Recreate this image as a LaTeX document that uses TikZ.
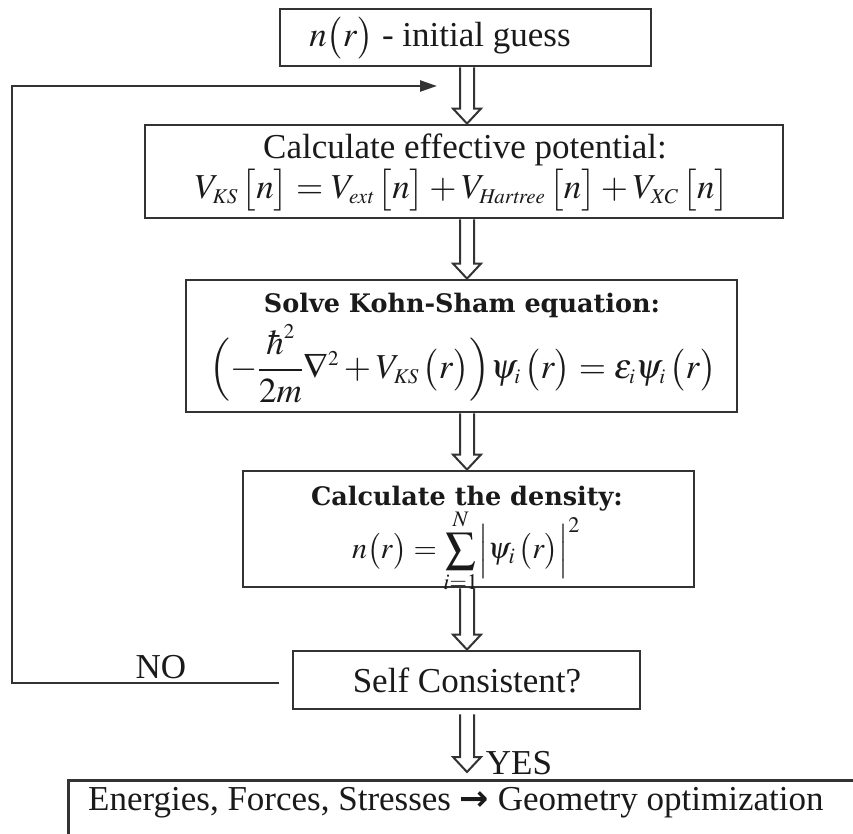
\documentclass[tikz,border=0pt]{standalone}
\usepackage{amsmath}
\usepackage{mathptmx}
\usepackage{fontspec}
\setmainfont{Liberation Serif}
\newfontfamily\centfont{DejaVu Serif}
\newfontfamily\symfont{DejaVu Sans}
\usetikzlibrary{calc,arrows.meta}
\DeclareMathSizes{35}{35}{21}{16}
\definecolor{linec}{HTML}{333333}
\definecolor{textc}{HTML}{1A1A1A}
\newcommand\hollowarrow[2]{%
  \draw[harrow] let \p1=#1, \p2=#2 in
    (\x1-7pt,\y1) -- (\x1-7pt,\y2+15pt) -- (\x1-14pt,\y2+15pt) -- (\x1,\y2)
    -- (\x1+14pt,\y2+15pt) -- (\x1+7pt,\y2+15pt) -- (\x1+7pt,\y1);}
\begin{document}
\begin{tikzpicture}[x=1pt,y=-1pt,
  box/.style={draw=linec, line width=2.8pt, inner sep=0pt},
  txt/.style={text=textc, font=\fontsize{35}{42}\selectfont, inner sep=0pt},
  ttl/.style={text=textc, font=\centfont\bfseries\fontsize{25.5}{30}\selectfont, inner sep=0pt},
  harrow/.style={draw=linec, line width=2pt, line join=miter},
  fb/.style={draw=linec, line width=2.4pt}]
\useasboundingbox (0,0) rectangle (853,834);
\fill[white] (0,0) rectangle (853,834);
\clip (0,0) rectangle (853,834);

% boxes
\node[box, minimum width=371pt, minimum height=57pt] (b1) at (465.5,37.5) {};
\node[txt] (b1t) at (440,38) {$n\bigl(r\bigr)$ - initial guess};

\node[box, minimum width=638pt, minimum height=93pt] (b2) at (464,171.5) {};
\node[txt] (b2t) at (465,150) {Calculate effective potential:};
\node[txt] (b2e) at (462,190) {$V_{\mathit{KS}}\,\bigl[n\bigr]=V_{\mathit{ext}}\,\bigl[n\bigr]+V_{\mathit{Hartree}}\,\bigl[n\bigr]+V_{\mathit{XC}}\,\bigl[n\bigr]$};

\node[box, minimum width=551pt, minimum height=132pt] (b3) at (461.5,346) {};
\node[ttl] (b3t) at (462,305) {Solve Kohn-Sham equation:};
\node[txt] (b3e) at (463,364) {$\Bigl(-\dfrac{\hbar^{2}}{2m}\nabla^{2}+V_{\mathit{KS}}\,\bigl(r\bigr)\Bigr)\psi_{i}\,\bigl(r\bigr)=\varepsilon_{i}\psi_{i}\,\bigl(r\bigr)$};

\node[box, minimum width=451pt, minimum height=116pt] (b4) at (468.5,529) {};
\node[ttl] (b4t) at (467,499) {Calculate the density:};
\node[txt, font=\fontsize{30}{36}\selectfont] (b4e) at (466,551) {$n\bigl(r\bigr)=\displaystyle\sum_{i=1}^{N}\Bigl|\psi_{i}\,\bigl(r\bigr)\Bigr|^{2}$};

\node[box, minimum width=347pt, minimum height=58pt] (b5) at (466.5,680) {};
\node[txt] (b5t) at (467,680) {Self Consistent?};

\node[box, anchor=north west, minimum width=900pt, minimum height=100pt] (b6) at (67,779) {};
\node[txt, anchor=west] (b6t) at (88,803) {Energies, Forces, Stresses {\symfont\bfseries →} Geometry optimization};

% hollow arrows
\coordinate (ax) at (467,0);
\hollowarrow{(b1.south -| ax)}{(b2.north -| ax)}
\hollowarrow{(b2.south -| ax)}{(b3.north -| ax)}
\hollowarrow{(b3.south -| ax)}{(b4.north -| ax)}
\hollowarrow{(b4.south -| ax)}{(b5.north -| ax)}
\hollowarrow{($(b5.south -| ax)+(0,4)$)}{($(b6.north -| ax)+(0,-7)$)}

% feedback loop
\coordinate (fbS) at (279,683);
\coordinate (fbC1) at (12,683);
\coordinate (fbC2) at (12,86);
\coordinate (fbE) at (437,86);
\draw[fb, -{Triangle[length=17pt,width=11pt]}] (fbS) -- (fbC1) -- (fbC2) -- (fbE);

\node[txt] (no) at (161,667) {NO};
\node[txt] (yes) at (519,763) {YES};
\end{tikzpicture}
\end{document}
